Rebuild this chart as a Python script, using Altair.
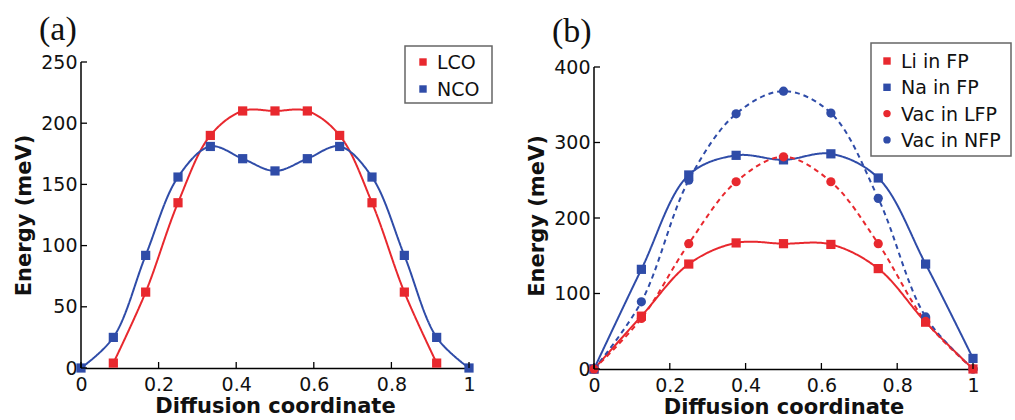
import altair as alt
import pandas as pd

# ---- panel (a): layered cobalt oxides, 13-image NEB path ----
coord_a = [k / 12 for k in range(13)]
lco_x = coord_a[1:12]
lco_e = [4, 62, 135, 190, 210, 210, 210, 190, 135, 62, 4]
nco_x = coord_a
nco_e = [0, 25, 92, 156, 181, 171, 161, 171, 181, 156, 92, 25, 0]
names_a = ["LCO", "NCO"]

# ---- panel (b): olivine phosphates, 9-image NEB path ----
coord_b = [k / 8 for k in range(9)]
li_fp = [0, 70, 139, 167, 166, 165, 133, 62, 0]
na_fp = [0, 132, 257, 283, 277, 285, 253, 139, 14]
vac_nfp = [0, 89, 250, 338, 368, 339, 226, 69, 0]
vac_lfp = [0, 67, 166, 248, 281, 248, 166, 63, 0]
names_b = ["Li in FP", "Na in FP", "Vac in NFP", "Vac in LFP"]
legend_b = ["Li in FP", "Na in FP", "Vac in LFP", "Vac in NFP"]

xticks = [0, 0.2, 0.4, 0.6, 0.8, 1]
yticks_a = [0, 50, 100, 150, 200, 250]
yticks_b = [0, 100, 200, 300, 400]

RED = "#e8282e"
BLUE = "#2f4ca8"
FONT = "DejaVu Sans"

df_a = pd.concat([
    pd.DataFrame({"x": lco_x, "e": lco_e, "series": "LCO"}),
    pd.DataFrame({"x": nco_x, "e": nco_e, "series": "NCO"}),
])
df_b = pd.concat([
    pd.DataFrame({"x": coord_b, "e": li_fp, "series": "Li in FP"}),
    pd.DataFrame({"x": coord_b, "e": na_fp, "series": "Na in FP"}),
    pd.DataFrame({"x": coord_b, "e": vac_nfp, "series": "Vac in NFP"}),
    pd.DataFrame({"x": coord_b, "e": vac_lfp, "series": "Vac in LFP"}),
])

color_map = {"LCO": RED, "NCO": BLUE, "Li in FP": RED, "Na in FP": BLUE,
             "Vac in LFP": RED, "Vac in NFP": BLUE}
shape_map = {"LCO": "square", "NCO": "square", "Li in FP": "square",
             "Na in FP": "square", "Vac in LFP": "circle", "Vac in NFP": "circle"}
dash_map = {"LCO": [1, 0], "NCO": [1, 0], "Li in FP": [1, 0], "Na in FP": [1, 0],
            "Vac in LFP": [5, 4], "Vac in NFP": [5, 4]}


def panel(df, names, legend_names, ymax, yticks, w, h, headroom, label, tag_y,
          box, first_row, step):
    # headroom: extra pixels above the top tick, so the panel's axis can sit lower
    ydom_max = ymax * h / (h - headroom)
    xs = alt.X("x:Q", scale=alt.Scale(domain=[0, 1], nice=False),
               axis=alt.Axis(values=xticks, format=".1~f", labelFlush=False,
                             title="Diffusion coordinate"))
    ys = alt.Y("e:Q", scale=alt.Scale(domain=[0, ydom_max], nice=False),
               axis=alt.Axis(values=yticks, labelFlush=False, domain=False,
                             title="Energy (meV)"))
    col = alt.Color("series:N", legend=None,
                    scale=alt.Scale(domain=names, range=[color_map[n] for n in names]))
    shp = alt.Shape("series:N", legend=None,
                    scale=alt.Scale(domain=names, range=[shape_map[n] for n in names]))
    dash = alt.StrokeDash("series:N", legend=None,
                          scale=alt.Scale(domain=names, range=[dash_map[n] for n in names]))

    base = alt.Chart(df)
    lines = base.mark_line(interpolate="catmull-rom", strokeWidth=2, clip=True).encode(
        x=xs, y=ys, color=col, strokeDash=dash, detail="series:N")
    pts = base.mark_point(filled=True, opacity=1, size=85).encode(
        x=xs, y=ys, color=col, shape=shp)

    # left axis line, from 0 up to the top tick
    yline = alt.Chart(pd.DataFrame({"e": [0], "e2": [ymax]})).mark_rule(
        color="black", strokeWidth=1.5).encode(y="e:Q", y2="e2:Q", x=alt.value(0))

    # inward tick marks
    xt = alt.Chart(pd.DataFrame({"x": xticks})).mark_rule(color="black", strokeWidth=1.3).encode(
        x="x:Q", y=alt.value(h), y2=alt.value(h - 6))
    yt = alt.Chart(pd.DataFrame({"e": yticks})).mark_rule(color="black", strokeWidth=1.3).encode(
        y="e:Q", x=alt.value(0), x2=alt.value(6))

    tag = alt.Chart(pd.DataFrame({"t": [label]})).mark_text(
        font="Liberation Serif", fontSize=34, align="left", baseline="top", color="#111"
    ).encode(text="t:N", x=alt.value(-42), y=alt.value(tag_y))

    x0, x1, y0, y1, mx, tx = box
    frame = alt.Chart(pd.DataFrame({"t": [label]})).mark_rect(
        fill="white", stroke="#666", strokeWidth=1.5
    ).encode(x=alt.value(x0), x2=alt.value(x1), y=alt.value(y0), y2=alt.value(y1))

    layers = [lines, pts, yline, xt, yt, tag, frame]
    for i, name in enumerate(legend_names):
        row = pd.DataFrame({"series": [name]})
        yy = first_row + i * step
        layers.append(alt.Chart(row).mark_point(
            filled=True, opacity=1, size=55, shape=shape_map[name], color=color_map[name]
        ).encode(x=alt.value(mx), y=alt.value(yy)))
        layers.append(alt.Chart(row).mark_text(
            font=FONT, fontSize=19, align="left", baseline="middle", color="#111"
        ).encode(text="series:N", x=alt.value(tx), y=alt.value(yy + 1)))

    return alt.layer(*layers).properties(width=w, height=h).resolve_scale(
        color="shared", shape="shared")


pa = panel(df_a, names_a, names_a, 250, yticks_a, 388, 306, 0, "(a)", -49,
           (324, 411, -16, 41, 342, 356), 0, 27)
pb = panel(df_b, names_b, legend_b, 400, yticks_b, 379, 307, 5, "(b)", -47,
           (277, 417, -19, 94, 293, 307), -1, 26.3)

chart = alt.hconcat(pa, pb, spacing=33).resolve_scale(
    color="independent", shape="independent", strokeDash="independent"
).properties(
    padding={"left": 13, "top": 13, "right": 0, "bottom": 0},
    background="white",
).configure_view(stroke=None).configure_axis(
    grid=False, ticks=False, domainColor="black", domainWidth=1.5,
    labelFont=FONT, labelFontSize=19, labelColor="#111", labelPadding=6,
    titleFont=FONT, titleFontSize=21, titleFontWeight="bold", titleColor="#111",
).configure_axisX(titlePadding=1, labelPadding=7).configure_axisY(titlePadding=6, labelPadding=4)

chart.save("out.html", embed_options={"renderer": "svg", "actions": False})
